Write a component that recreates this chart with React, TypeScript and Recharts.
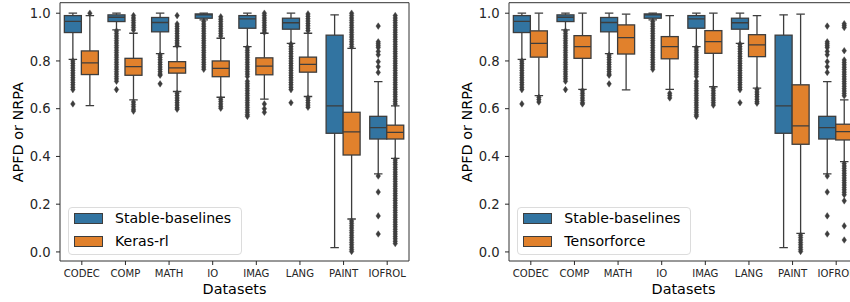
import React from 'react';
import { ComposedChart, Bar, XAxis, YAxis, Legend, ReferenceArea } from 'recharts';

const categories = ['CODEC', 'COMP', 'MATH', 'IO', 'IMAG', 'LANG', 'PAINT', 'IOFROL'];
const yTicks = [0, 0.2, 0.4, 0.6, 0.8, 1.0];
const yDomain: [number, number] = [-0.038, 1.044];

// Stable-baselines (same in both panels)
const sbLow = [0.807, 0.93, 0.831, 0.972, 0.86, 0.874, 0.018, 0.327];
const sbQ1 = [0.919, 0.965, 0.922, 0.979, 0.937, 0.933, 0.497, 0.473];
const sbMed = [0.966, 0.983, 0.961, 0.993, 0.976, 0.96, 0.612, 0.521];
const sbQ3 = [0.99, 0.993, 0.982, 0.997, 0.99, 0.979, 0.908, 0.568];
const sbHigh = [1.0, 1.0, 1.0, 1.0, 1.0, 1.0, 0.993, 0.713];
const sbOut = [
  [0.8, 0.79, 0.78, 0.77, 0.76, 0.75, 0.74, 0.73, 0.72, 0.71, 0.7, 0.69, 0.68, 0.62],
  [0.925, 0.915, 0.905, 0.895, 0.885, 0.875, 0.865, 0.855, 0.845, 0.835, 0.825, 0.815, 0.805, 0.795, 0.785, 0.775, 0.765, 0.755, 0.745, 0.735, 0.725, 0.715, 0.68],
  [0.825, 0.815, 0.805, 0.795, 0.785, 0.775, 0.765, 0.755, 0.745, 0.74, 0.704],
  [0.965, 0.955, 0.945, 0.935, 0.925, 0.915, 0.905, 0.895, 0.885, 0.875, 0.865, 0.855, 0.845, 0.835, 0.825, 0.815, 0.805, 0.795, 0.785, 0.775, 0.765],
  [0.855, 0.845, 0.835, 0.825, 0.815, 0.805, 0.795, 0.785, 0.775, 0.765, 0.755, 0.745, 0.735, 0.715, 0.705, 0.695, 0.685, 0.675, 0.665, 0.655, 0.645, 0.635, 0.625, 0.615, 0.605, 0.595, 0.585, 0.575, 0.568],
  [0.87, 0.86, 0.85, 0.84, 0.83, 0.82, 0.81, 0.8, 0.79, 0.78, 0.77, 0.76, 0.75, 0.74, 0.73, 0.72, 0.71, 0.7, 0.69, 0.68, 0.625],
  [],
  [0.946, 0.88, 0.872, 0.864, 0.856, 0.84, 0.826, 0.797, 0.776, 0.752, 0.318, 0.251, 0.151, 0.075],
];

// Keras-rl
const krLow = [0.613, 0.637, 0.672, 0.648, 0.64, 0.651, 0.138, 0.392];
const krQ1 = [0.743, 0.74, 0.749, 0.734, 0.742, 0.753, 0.406, 0.473];
const krMed = [0.792, 0.776, 0.771, 0.769, 0.778, 0.786, 0.503, 0.501];
const krQ3 = [0.842, 0.811, 0.797, 0.8, 0.813, 0.816, 0.585, 0.531];
const krHigh = [0.99, 0.916, 0.86, 0.895, 0.916, 0.916, 0.853, 0.612];
const krOut = [
  [1.0],
  [0.99, 0.98, 0.97, 0.96, 0.95, 0.94, 0.93, 0.628, 0.618, 0.608, 0.598, 0.59],
  [0.99, 0.955, 0.945, 0.935, 0.925, 0.915, 0.905, 0.895, 0.885, 0.875, 0.866, 0.665, 0.655, 0.645, 0.635, 0.625, 0.615, 0.605, 0.598],
  [0.985, 0.975, 0.965, 0.955, 0.945, 0.935, 0.925, 0.915, 0.905, 0.64, 0.63, 0.62, 0.61, 0.602],
  [1.0, 0.99, 0.98, 0.97, 0.96, 0.95, 0.94, 0.93, 0.92, 0.62, 0.6, 0.585],
  [0.997, 0.987, 0.977, 0.967, 0.957, 0.947, 0.937, 0.927, 0.645, 0.635, 0.625, 0.615, 0.606],
  [1.0, 0.99, 0.98, 0.97, 0.96, 0.95, 0.94, 0.93, 0.92, 0.91, 0.9, 0.89, 0.88, 0.87, 0.86,
   0.13, 0.12, 0.11, 0.1, 0.09, 0.08, 0.07, 0.06, 0.05, 0.04, 0.03, 0.02, 0.01, 0.002],
  [0.99, 0.98, 0.97, 0.96, 0.95, 0.94, 0.93, 0.92, 0.91, 0.9, 0.89, 0.88, 0.87, 0.86, 0.85, 0.84, 0.83, 0.82, 0.81, 0.8,
   0.79, 0.78, 0.77, 0.76, 0.75, 0.74, 0.73, 0.72, 0.71, 0.7, 0.69, 0.68, 0.67, 0.66, 0.65, 0.64, 0.63, 0.62,
   0.385, 0.375, 0.365, 0.355, 0.345, 0.335, 0.325, 0.315, 0.305, 0.295, 0.285, 0.275, 0.265, 0.255, 0.245, 0.235, 0.225, 0.215,
   0.205, 0.195, 0.185, 0.175, 0.165, 0.155, 0.145, 0.135, 0.125, 0.115, 0.105, 0.095, 0.085, 0.075, 0.065, 0.055, 0.045, 0.035],
];

// Tensorforce
const tfLow = [0.655, 0.681, 0.679, 0.681, 0.692, 0.686, 0.078, 0.378];
const tfQ1 = [0.816, 0.811, 0.829, 0.809, 0.832, 0.818, 0.451, 0.469];
const tfMed = [0.874, 0.86, 0.898, 0.86, 0.881, 0.867, 0.528, 0.504];
const tfQ3 = [0.926, 0.906, 0.951, 0.902, 0.927, 0.91, 0.7, 0.535];
const tfHigh = [1.0, 1.0, 0.996, 0.99, 1.0, 0.99, 0.996, 0.637];
const tfOut = [
  [0.648, 0.638, 0.628],
  [0.675, 0.665, 0.655, 0.645, 0.635, 0.625, 0.62],
  [],
  [0.665, 0.655, 0.645],
  [0.685, 0.675, 0.665, 0.655, 0.645, 0.635, 0.625, 0.615],
  [0.68, 0.67, 0.66, 0.65, 0.64, 0.63, 0.623],
  [0.07, 0.06, 0.05, 0.04, 0.03, 0.02, 0.01, 0.002],
  [0.956, 0.948, 0.94, 0.843, 0.804, 0.794, 0.784, 0.774, 0.764, 0.754, 0.744, 0.734, 0.724, 0.714, 0.704, 0.694, 0.684, 0.674, 0.664, 0.654,
   0.37, 0.36, 0.35, 0.34, 0.33, 0.32, 0.31, 0.3, 0.29, 0.28, 0.27, 0.26, 0.25, 0.24, 0.214, 0.109, 0.05],
];

const seriesNamesLeft = ['Stable-baselines', 'Keras-rl'];
const seriesNamesRight = ['Stable-baselines', 'Tensorforce'];
const colors = ['#3274a1', '#e1812c'];
const EDGE = '#3d3d3d';
const FONT = 'DejaVu Sans';

type Stats = { low: number; q1: number; med: number; q3: number; high: number; out: number[] };

const mk = (low: number[], q1: number[], med: number[], q3: number[], high: number[], out: number[][], i: number): Stats => ({
  low: low[i], q1: q1[i], med: med[i], q3: q3[i], high: high[i], out: out[i],
});

const leftRows = categories.map((name, i) => ({
  name,
  a: mk(sbLow, sbQ1, sbMed, sbQ3, sbHigh, sbOut, i),
  b: mk(krLow, krQ1, krMed, krQ3, krHigh, krOut, i),
}));
const rightRows = categories.map((name, i) => ({
  name,
  a: mk(sbLow, sbQ1, sbMed, sbQ3, sbHigh, sbOut, i),
  b: mk(tfLow, tfQ1, tfMed, tfQ3, tfHigh, tfOut, i),
}));

const boxShape = (key: 'a' | 'b', color: string) => (props: any) => {
  const { x, y, width, height, payload } = props;
  const s: Stats = payload[key];
  const k = height / (s.high - s.low);
  const toY = (v: number) => y + (s.high - v) * k;
  const cx = x + width / 2;
  const cap = width / 4;
  const sw = 1.3;
  return (
    <g>
      <line x1={cx} x2={cx} y1={toY(s.high)} y2={toY(s.q3)} stroke={EDGE} strokeWidth={sw} />
      <line x1={cx} x2={cx} y1={toY(s.q1)} y2={toY(s.low)} stroke={EDGE} strokeWidth={sw} />
      <line x1={cx - cap} x2={cx + cap} y1={toY(s.high)} y2={toY(s.high)} stroke={EDGE} strokeWidth={sw} />
      <line x1={cx - cap} x2={cx + cap} y1={toY(s.low)} y2={toY(s.low)} stroke={EDGE} strokeWidth={sw} />
      <rect x={x} y={toY(s.q3)} width={width} height={toY(s.q1) - toY(s.q3)} fill={color} stroke={EDGE} strokeWidth={sw} />
      <line x1={x} x2={x + width} y1={toY(s.med)} y2={toY(s.med)} stroke={EDGE} strokeWidth={sw} />
      {s.out.map((v, j) => {
        const py = toY(v);
        return (
          <polygon
            key={j}
            points={`${cx},${py - 3.3} ${cx + 2.3},${py} ${cx},${py + 3.3} ${cx - 2.3},${py}`}
            fill={EDGE}
            stroke={EDGE}
            strokeWidth={0.4}
          />
        );
      })}
    </g>
  );
};

const makeLegend = (names: string[]) => () => (
  <div
    style={{
      position: 'relative',
      width: 174.5,
      height: 47.7,
      boxSizing: 'border-box',
      border: '1px solid #dcdcdc',
      borderRadius: 4,
      background: 'rgba(255,255,255,0.85)',
      fontFamily: FONT,
      fontSize: 14.1,
      color: '#000',
    }}
  >
    {names.map((n, i) => (
      <div key={n} style={{ position: 'absolute', left: 5, top: 5 + i * 22.7, height: 11, display: 'flex', alignItems: 'center' }}>
        <div style={{ width: 29.5, height: 11, boxSizing: 'border-box', background: colors[i], border: `1px solid ${EDGE}` }} />
        <span style={{ marginLeft: 12, whiteSpace: 'nowrap', lineHeight: '11px' }}>{n}</span>
      </div>
    ))}
  </div>
);

const yLabel = () => (
  <text
    x={22.7}
    y={132.2}
    transform="rotate(-90 22.7 132.2)"
    textAnchor="middle"
    fontSize={14.4}
    fontFamily={FONT}
    fill="#000"
  >
    APFD or NRPA
  </text>
);

function Panel({ rows, names }: { rows: any[]; names: string[] }) {
  return (
    <ComposedChart
      width={449}
      height={302}
      data={rows}
      margin={{ top: 2.7, right: 40, bottom: 0, left: 0 }}
      barCategoryGap="10%"
      barGap={0}
      style={{ fontFamily: FONT }}
    >
      <XAxis
        dataKey="name"
        type="category"
        interval={0}
        height={41}
        axisLine={false}
        tickLine={{ stroke: '#262626', strokeWidth: 1 }}
        tickSize={4}
        tickMargin={4.6}
        tick={{ fontSize: 10.1, fill: '#262626', fontFamily: FONT }}
        label={{ value: 'Datasets', position: 'insideBottom', offset: 8.5, fontSize: 14.4, fill: '#000', fontFamily: FONT }}
      />
      <YAxis
        type="number"
        domain={yDomain}
        allowDataOverflow
        ticks={yTicks}
        interval={0}
        width={60}
        axisLine={false}
        tickLine={{ stroke: '#262626', strokeWidth: 1 }}
        tickSize={4}
        tickMargin={5.3}
        tickFormatter={(v: number) => v.toFixed(1)}
        tick={{ fontSize: 13.2, fill: '#262626', fontFamily: FONT }}
        label={{ content: yLabel }}
      />
      <ReferenceArea y1={yDomain[0]} y2={yDomain[1]} fill="none" stroke="#333" strokeWidth={1} ifOverflow="visible" />
      <Bar dataKey={(d: any) => [d.a.low, d.a.high]} name={names[0]} fill={colors[0]} shape={boxShape('a', colors[0])} isAnimationActive={false} />
      <Bar dataKey={(d: any) => [d.b.low, d.b.high]} name={names[1]} fill={colors[1]} shape={boxShape('b', colors[1])} isAnimationActive={false} />
      <Legend
        layout="vertical"
        align="center"
        verticalAlign="middle"
        content={makeLegend(names)}
        wrapperStyle={{ left: 67.5, top: 207.3, width: 174.5, height: 47.7 }}
      />
    </ComposedChart>
  );
}

export default function App() {
  return (
    <div style={{ position: 'absolute', left: 0, top: 0, width: 850, height: 302, overflow: 'hidden', background: '#fff' }}>
      <div style={{ position: 'absolute', left: 0, top: 0 }}>
        <Panel rows={leftRows} names={seriesNamesLeft} />
      </div>
      <div style={{ position: 'absolute', left: 449.3, top: 0 }}>
        <Panel rows={rightRows} names={seriesNamesRight} />
      </div>
    </div>
  );
}
